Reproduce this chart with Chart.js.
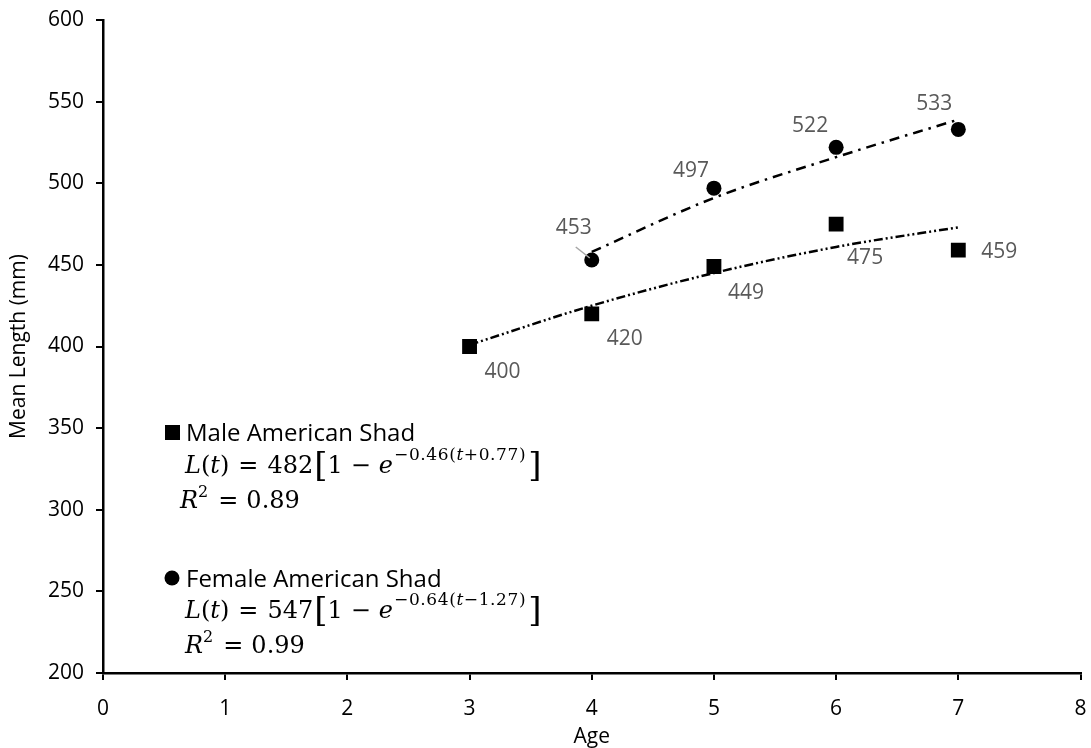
<!DOCTYPE html>
<html>
<head>
<meta charset="utf-8">
<script src="https://cdn.jsdelivr.net/npm/chart.js@4.4.1/dist/chart.umd.min.js"></script>
<style>
  html, body { margin: 0; background: #fff; }
</style>
</head>
<body>
<canvas id="myChart" width="1091" height="748"></canvas>
<script>
// observed means
const maleAges = [3, 4, 5, 6, 7];
const maleLength = [400, 420, 449, 475, 459];
const femaleAges = [4, 5, 6, 7];
const femaleLength = [453, 497, 522, 533];

// von Bertalanffy trendlines, heights at each age
const maleFit = [401, 425, 445, 461, 473];
const femaleFit = [458, 491, 516, 539];

const ageTicks = [0, 1, 2, 3, 4, 5, 6, 7, 8];
const lengthTicks = [200, 250, 300, 350, 400, 450, 500, 550, 600];

const toPoints = (xs, ys) => xs.map((x, i) => ({ x: x, y: ys[i] }));

const SANS = '"Open Sans", sans-serif';
const MATH = '"DejaVu Serif", serif';

// where each value label sits relative to its marker (px)
const maleLabelShift = [[33, 26], [33, 25], [32, 27], [29, 34], [41, 2]];
const femaleLabelShift = [[-18, -32], [-23, -17], [-26, -21], [-24, -25]];

const valueLabels = {
  id: 'valueLabels',
  afterDatasetsDraw(chart) {
    const ctx = chart.ctx;
    ctx.save();
    ctx.font = '21px ' + SANS;
    ctx.fillStyle = '#595959';
    ctx.textAlign = 'center';
    ctx.textBaseline = 'middle';
    [[0, maleLength, maleLabelShift], [1, femaleLength, femaleLabelShift]].forEach(([di, vals, shift]) => {
      chart.getDatasetMeta(di).data.forEach((pt, i) => {
        ctx.fillText(vals[i], pt.x + shift[i][0], pt.y + shift[i][1]);
      });
    });
    // leader line for the first female label
    const p = chart.getDatasetMeta(1).data[0];
    ctx.strokeStyle = '#a6a6a6';
    ctx.lineWidth = 1.5;
    ctx.beginPath();
    ctx.moveTo(p.x - 16, p.y - 13);
    ctx.lineTo(p.x - 2, p.y - 2);
    ctx.stroke();
    ctx.restore();
  }
};

// draws a row of text pieces; ls spreads the characters of a piece
function drawRuns(ctx, x, y, runs) {
  runs.forEach(r => {
    ctx.font = r.f;
    x += r.pre || 0;
    const ls = r.ls || 0;
    for (const ch of r.t) {
      ctx.fillText(ch, x, y + (r.dy || 0));
      x += ctx.measureText(ch).width + ls;
    }
    x += r.sp || 0;
  });
}

function equation(a, k, t0sign, t0) {
  const rm = '24px ' + MATH, it = 'italic 24px ' + MATH;
  const sm = '17px ' + MATH, smi = 'italic 17px ' + MATH;
  return [
    { t: 'L', f: it }, { t: '(', f: rm }, { t: 't', f: it }, { t: ')', f: rm },
    { t: '=', f: rm, pre: 9, sp: 9 }, { t: a, f: rm },
    { t: '[', f: '34px ' + MATH, dy: 3, pre: 1 }, { t: '1', f: rm }, { t: '−', f: rm, pre: 8, sp: 8 }, { t: 'e', f: it, sp: 1 },
    { t: '−' + k + '(', f: sm, dy: -13, ls: 0.6 }, { t: 't', f: smi, dy: -13, ls: 0.6 },
    { t: t0sign + t0 + ')', f: sm, dy: -13, ls: 0.6, sp: 2 },
    { t: ']', f: '34px ' + MATH, dy: 3 }
  ];
}

function rSquared(v) {
  return [
    { t: 'R', f: 'italic 24px ' + MATH }, { t: '2', f: '16px ' + MATH, dy: -11, sp: 2 },
    { t: '=', f: '24px ' + MATH, pre: 8, sp: 8 }, { t: v, f: '24px ' + MATH }
  ];
}

const fitLegend = {
  id: 'fitLegend',
  afterDraw(chart) {
    const ctx = chart.ctx;
    ctx.save();
    ctx.fillStyle = '#000';
    ctx.textBaseline = 'alphabetic';
    ctx.textAlign = 'left';
    // male block
    ctx.fillRect(165, 425, 15, 15);
    ctx.font = '24px ' + SANS;
    ctx.fillText('Male American Shad', 186, 441);
    drawRuns(ctx, 185, 473, equation('482', '0.46', '+', '0.77'));
    drawRuns(ctx, 180, 508, rSquared('0.89'));
    // female block
    ctx.beginPath();
    ctx.arc(172, 578, 7.5, 0, Math.PI * 2);
    ctx.fill();
    ctx.font = '24px ' + SANS;
    ctx.fillText('Female American Shad', 186, 587);
    drawRuns(ctx, 185, 618, equation('547', '0.64', '−', '1.27'));
    drawRuns(ctx, 185, 653, rSquared('0.99'));
    ctx.restore();
  }
};

const ctx = document.getElementById('myChart');
new Chart(ctx, {
  type: 'scatter',
  data: {
    datasets: [
      {
        label: 'Male American Shad',
        data: toPoints(maleAges, maleLength),
        pointStyle: 'rect',
        pointRadius: 10.5,
        pointHoverRadius: 10.5,
        backgroundColor: '#000',
        borderColor: '#000',
        borderWidth: 0,
        order: 1
      },
      {
        label: 'Female American Shad',
        data: toPoints(femaleAges, femaleLength),
        pointStyle: 'circle',
        pointRadius: 7.5,
        pointHoverRadius: 7.5,
        backgroundColor: '#000',
        borderColor: '#000',
        borderWidth: 0,
        order: 1
      },
      {
        label: 'Male fit',
        data: toPoints(maleAges, maleFit),
        showLine: true,
        pointRadius: 0,
        borderColor: '#000',
        borderWidth: 2.5,
        borderDash: [9, 3, 2, 3, 2, 3],
        cubicInterpolationMode: 'monotone',
        order: 0
      },
      {
        label: 'Female fit',
        data: toPoints(femaleAges, femaleFit),
        showLine: true,
        pointRadius: 0,
        borderColor: '#000',
        borderWidth: 2.5,
        borderDash: [10, 6, 2.5, 6],
        cubicInterpolationMode: 'monotone',
        order: 0
      }
    ]
  },
  options: {
    responsive: false,
    animation: false,
    layout: { padding: { top: 20, right: 0, left: 0, bottom: 0 } },
    plugins: {
      legend: { display: false },
      tooltip: { enabled: false }
    },
    scales: {
      x: {
        type: 'linear',
        min: 0,
        max: 8,
        afterBuildTicks: s => { s.ticks = ageTicks.map(v => ({ value: v })); },
        afterFit: s => { s.height = 75; s.paddingLeft = 0; s.paddingRight = 0; },
        ticks: { color: '#000', font: { family: SANS, size: 21 }, padding: 16 },
        grid: { drawOnChartArea: false, tickLength: 7, color: '#000', lineWidth: 2 },
        border: { color: '#000', width: 2.5 },
        title: { display: true, text: 'Age', color: '#000', font: { family: SANS, size: 21, lineHeight: 1 }, padding: { top: 0, bottom: 0 } }
      },
      y: {
        type: 'linear',
        min: 200,
        max: 600,
        afterBuildTicks: s => { s.ticks = lengthTicks.map(v => ({ value: v })); },
        afterFit: s => { s.width = 103; s.paddingTop = 0; s.paddingBottom = 0; },
        ticks: { color: '#000', font: { family: SANS, size: 21 }, padding: 12 },
        grid: { drawOnChartArea: false, tickLength: 7, color: '#000', lineWidth: 2 },
        border: { color: '#000', width: 2.5 },
        title: { display: true, text: 'Mean Length (mm)', color: '#000', font: { family: SANS, size: 21 }, padding: { top: 6, bottom: 0 } }
      }
    }
  },
  plugins: [valueLabels, fitLegend]
});
</script>
</body>
</html>
